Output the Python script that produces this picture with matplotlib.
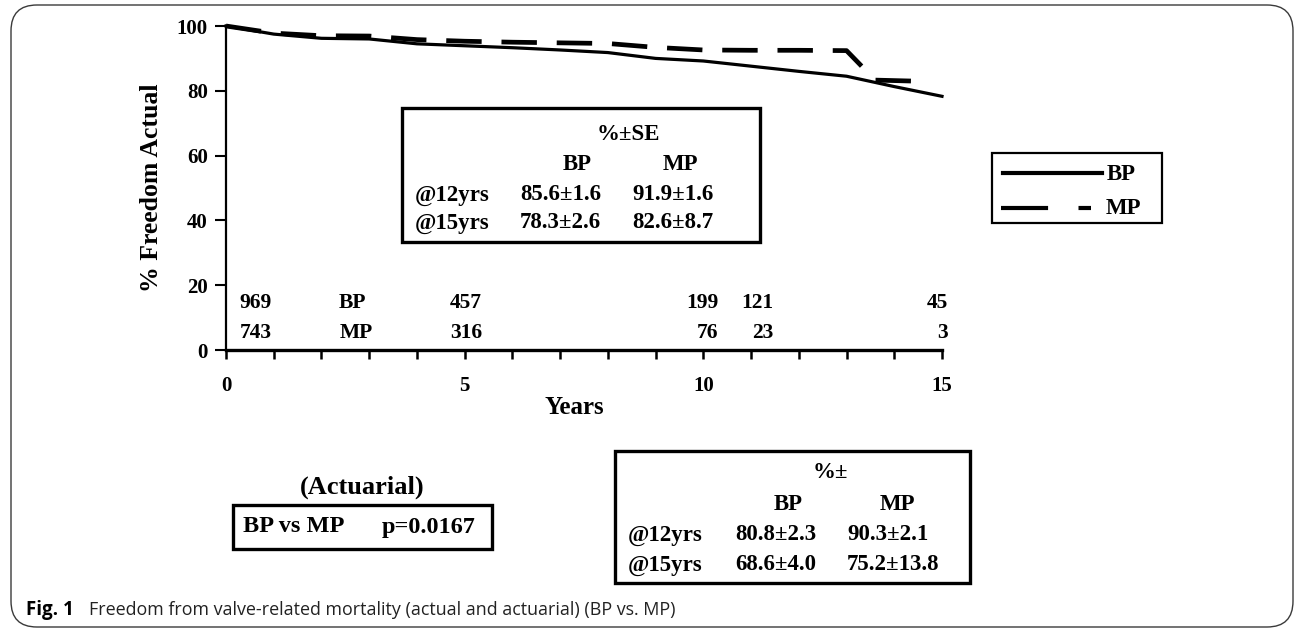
import matplotlib
matplotlib.use("Agg")
import matplotlib.pyplot as plt
from matplotlib.patches import Rectangle, FancyBboxPatch
from matplotlib.lines import Line2D

# ---------------- data ----------------
years_bp = [0, 1, 2, 3, 4, 5, 6, 7, 8, 9, 10, 11, 12, 13, 14, 15]
bp_actual = [100, 97.5, 96.2, 96.0, 94.5, 93.9, 93.3, 92.6, 91.8, 90.0, 89.2, 87.6, 86.0, 84.5, 81.3, 78.3]
years_mp = [0, 1, 2, 3, 4, 5, 6, 7, 8, 9, 10, 11, 12, 13, 13.6, 14.4]
mp_actual = [100, 97.8, 97.0, 96.9, 95.8, 95.3, 95.0, 94.8, 94.6, 93.4, 92.6, 92.5, 92.5, 92.4, 83.3, 83.0]

series_names = ["BP", "MP"]
bp_at_risk = ["969", "457", "199", "121", "45"]
mp_at_risk = ["743", "316", "76", "23", "3"]

x_ticks = list(range(16))
x_tick_labels = ["0", "", "", "", "", "5", "", "", "", "", "10", "", "", "", "", "15"]
y_ticks = [0, 20, 40, 60, 80, 100]

row_labels = ["@12yrs", "@15yrs"]
actual_bp = ["85.6\u00b11.6", "78.3\u00b12.6"]
actual_mp = ["91.9\u00b11.6", "82.6\u00b18.7"]
actuarial_bp = ["80.8\u00b12.3", "68.6\u00b14.0"]
actuarial_mp = ["90.3\u00b12.1", "75.2\u00b113.8"]
p_value = "p=0.0167"

# ---------------- layout helpers ----------------
W, H = 1295, 628
plt.rcParams["font.family"] = ["Liberation Serif", "DejaVu Serif"]
plt.rcParams["font.weight"] = "bold"

fig = plt.figure(figsize=(W / 100, H / 100), dpi=100)


def fx(x):
    return x / W


def fy(y):
    return 1 - y / H


def ftext(x, y, s, size, ha="left", **kw):
    fig.text(fx(x), fy(y), s, ha=ha, va="center", fontsize=size,
             fontweight="bold", **kw)


def fbox(x0, y0, x1, y1, lw):
    fig.patches.append(Rectangle((fx(x0), fy(y1)), fx(x1) - fx(x0), fy(y0) - fy(y1),
                                 transform=fig.transFigure, fill=False,
                                 edgecolor="black", linewidth=lw))


# outer frame
fig.patches.append(FancyBboxPatch((fx(11), fy(627)), fx(1293) - fx(11), fy(5) - fy(627),
                                  boxstyle="round,pad=0,rounding_size=0.02",
                                  transform=fig.transFigure, fill=False,
                                  edgecolor="#3a3a3a", linewidth=1.0,
                                  mutation_aspect=W / H))

# ---------------- axes ----------------
ax = fig.add_axes([fx(226), fy(350), fx(942) - fx(226), fy(26) - fy(350)])
ax.plot(years_bp, bp_actual, color="black", lw=2.3, clip_on=False,
        solid_joinstyle="round", zorder=4)
ax.plot(years_mp, mp_actual, color="black", lw=3.4, ls=(0, (7.5, 4.2)),
        clip_on=False, zorder=3)
ax.set_xlim(0, 15)
ax.set_ylim(0, 100)
for s in ["top", "right"]:
    ax.spines[s].set_visible(False)
ax.spines["left"].set_linewidth(1.6)
ax.spines["bottom"].set_linewidth(2.4)
ax.set_xticks(x_ticks)
ax.set_xticklabels(x_tick_labels)
ax.set_yticks(y_ticks)
ax.tick_params(axis="x", direction="out", length=6.5, width=1.8, pad=12, labelsize=15)
ax.tick_params(axis="y", direction="out", length=8, width=1.5, pad=5, labelsize=15)
for lab in ax.get_xticklabels() + ax.get_yticklabels():
    lab.set_fontweight("bold")

# numbers at risk (right-aligned columns)
risk_x = [0.96, 5.36, 10.31, 11.46, 15.13]
for xr, nb, nm in zip(risk_x, bp_at_risk, mp_at_risk):
    ax.text(xr, 14.5, nb, ha="right", va="center", fontsize=15.5, fontweight="bold", clip_on=False)
    ax.text(xr, 5.2, nm, ha="right", va="center", fontsize=15.5, fontweight="bold", clip_on=False)
ax.text(2.65, 14.5, series_names[0], ha="center", va="center", fontsize=15.5, fontweight="bold")
ax.text(2.72, 5.2, series_names[1], ha="center", va="center", fontsize=15.5, fontweight="bold")

# axis titles
ftext(152, 188, "% Freedom Actual", 18.5, ha="center", rotation=90)
ftext(574, 408, "Years", 18, ha="center")

# ---------------- table: actual ----------------
fbox(402, 108, 760, 242, 2.4)
ftext(628, 135, "%\u00b1SE", 16.5, ha="center")
ftext(577, 165, series_names[0], 16.5, ha="center")
ftext(680, 165, series_names[1], 16.5, ha="center")
for i, (rl, b, m) in enumerate(zip(row_labels, actual_bp, actual_mp)):
    yy = 195 + 28 * i
    ftext(415, yy, rl, 16.5)
    ftext(520, yy, b, 16.5)
    ftext(632, yy, m, 16.5)

# ---------------- legend ----------------
fbox(992, 153, 1162, 223, 1.6)
fig.lines.append(Line2D([fx(1003), fx(1102)], [fy(173), fy(173)], transform=fig.transFigure,
                        color="black", lw=3.0))
fig.lines.append(Line2D([fx(1001), fx(1091)], [fy(208), fy(208)], transform=fig.transFigure,
                        color="black", lw=3.0, ls=(0, (11.3, 7.3))))
ftext(1107, 175, series_names[0], 16.5)
ftext(1106, 209, series_names[1], 16.5)

# ---------------- actuarial p-value ----------------
ftext(362, 487, "(Actuarial)", 19, ha="center")
fbox(233, 505, 492, 549, 2.4)
ftext(243, 527, "BP vs MP", 17.5)
ftext(382, 527, p_value, 17.5)

# ---------------- table: actuarial ----------------
fbox(615, 451, 970, 583, 2.4)
ftext(830, 473, "%\u00b1", 16.5, ha="center")
ftext(788, 505, series_names[0], 16.5, ha="center")
ftext(897, 505, series_names[1], 16.5, ha="center")
for i, (rl, b, m) in enumerate(zip(row_labels, actuarial_bp, actuarial_mp)):
    yy = 535 + 30 * i
    ftext(628, yy, rl, 16.5)
    ftext(735, yy, b, 16.5)
    ftext(847, yy, m, 16.5)

# ---------------- caption ----------------
fig.text(fx(26), fy(615), "Fig. 1", ha="left", va="baseline", fontsize=13.5,
         fontweight="bold", family="Open Sans")
fig.text(fx(89), fy(615), "Freedom from valve-related mortality (actual and actuarial) (BP vs. MP)",
         ha="left", va="baseline", fontsize=12.9, fontweight="normal", family="Open Sans",
         color="#222222")

fig.savefig("out.png", dpi=100)
